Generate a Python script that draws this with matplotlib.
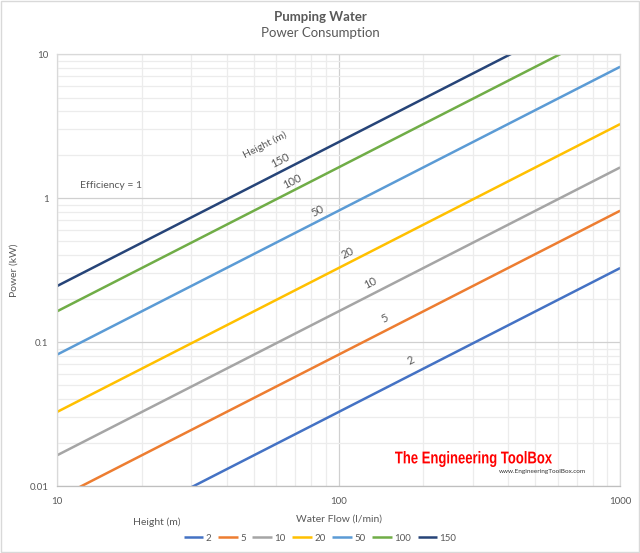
import matplotlib.pyplot as plt
from matplotlib.ticker import FixedLocator, NullFormatter, FixedFormatter
from matplotlib.textpath import TextPath
from matplotlib.patches import PathPatch
from matplotlib.font_manager import FontProperties
from matplotlib.transforms import Affine2D

plt.rcParams['font.family'] = ['Lato', 'DejaVu Sans']

# water flow (l/min) and power (kW) read at the chart edges
flow = [10, 100, 1000]
heights = ['2', '5', '10', '20', '50', '100', '150']
p_2 = [0.00327, 0.0327, 0.327]
p_5 = [0.00818, 0.0818, 0.818]
p_10 = [0.01635, 0.1635, 1.635]
p_20 = [0.0327, 0.327, 3.27]
p_50 = [0.0818, 0.818, 8.18]
p_100 = [0.1635, 1.635, 16.35]
p_150 = [0.245, 2.45, 24.5]
powers = [p_2, p_5, p_10, p_20, p_50, p_100, p_150]
colors = ['#4472C4', '#ED7D31', '#A5A5A5', '#FFC000', '#5B9BD5', '#70AD47', '#264478']

# in-chart label positions (data coords)
lab_x = [181, 146, 130, 108, 84.5, 68.4, 62]
lab_y = [0.075, 0.147, 0.257, 0.415, 0.81, 1.31, 1.84]

txt = '#595959'

fig = plt.figure(figsize=(6.4, 5.53), dpi=100)
ax = fig.add_axes([0.089, 0.121, 0.880, 0.781])

for h, p, c in zip(heights, powers, colors):
    ax.plot(flow, p, color=c, lw=1.8, label=h, solid_capstyle='butt')

ax.set_xscale('log')
ax.set_yscale('log')
ax.set_xlim(10, 1000)
ax.set_ylim(0.01, 10)

ax.xaxis.set_major_locator(FixedLocator([10, 100, 1000]))
ax.xaxis.set_major_formatter(FixedFormatter(['10', '100', '1000']))
ax.yaxis.set_major_locator(FixedLocator([0.01, 0.1, 1, 10]))
ax.yaxis.set_major_formatter(FixedFormatter(['0.01', '0.1', '1', '10']))
ax.xaxis.set_minor_formatter(NullFormatter())
ax.yaxis.set_minor_formatter(NullFormatter())
ax.tick_params(which='both', length=0, labelsize=7, colors=txt, pad=8)
ax.tick_params(axis='y', pad=6)
ax.grid(which='major', color='#d0d0d0', lw=0.9)
ax.grid(which='minor', color='#ececec', lw=0.9)
ax.set_axisbelow(True)
for s in ax.spines.values():
    s.set_color('#d9d9d9')
    s.set_linewidth(0.9)
ax.spines['bottom'].set_color('#bfbfbf')

ax.set_xlabel('Water Flow (l/min)', fontsize=7.5, color=txt, labelpad=6)
ax.set_ylabel('Power (kW)', fontsize=7.5, color=txt, labelpad=8)

for h, x, y in zip(heights, lab_x, lab_y):
    ax.text(x, y, h, rotation=27, fontsize=8, color=txt, ha='center', va='center')
ax.text(54.8, 2.33, 'Height (m)', rotation=27, fontsize=7.5, color=txt, ha='center', va='center')
ax.text(12.1, 1.23, 'Efficiency = 1', fontsize=7.5, color=txt, ha='left', va='center')

# watermark: narrow red text, squeezed into its box (pixels)
tp = TextPath((0, 0), 'The Engineering ToolBox', size=20,
              prop=FontProperties(family='Liberation Sans', weight='bold'))
ext = tp.get_extents()
x0, x1, y0, y1 = 395, 552, 553 - 467, 553 - 451
tr = (Affine2D().translate(-ext.x0, -ext.y0)
      .scale((x1 - x0) / ext.width, (y1 - y0) / ext.height).translate(x0, y0))
fig.patches.append(PathPatch(tp, transform=tr, facecolor='#ff0000', edgecolor='none'))
fig.text(0.916, 0.147, 'www.EngineeringToolBox.com', fontsize=4.6, color='#333333',
         ha='right', va='center')

fig.text(0.5, 0.969, 'Pumping Water', fontsize=9.5, fontweight='bold', color=txt, ha='center', va='center')
fig.text(0.5, 0.940, 'Power Consumption', fontsize=9.5, color=txt, ha='center', va='center')

fig.text(0.245, 0.056, 'Height (m)', fontsize=7.5, color=txt, ha='center', va='center')
leg = fig.legend(loc='center', bbox_to_anchor=(0.5, 0.027), ncol=7, frameon=False,
                 fontsize=7, handlelength=2.0, handletextpad=0.25, columnspacing=0.7)
for t in leg.get_texts():
    t.set_color(txt)

fig.patches.append(plt.Rectangle((0.002, 0.002), 0.996, 0.996, transform=fig.transFigure,
                                 fill=False, edgecolor='#d9d9d9', lw=1))

fig.savefig('out.png', dpi=100)
